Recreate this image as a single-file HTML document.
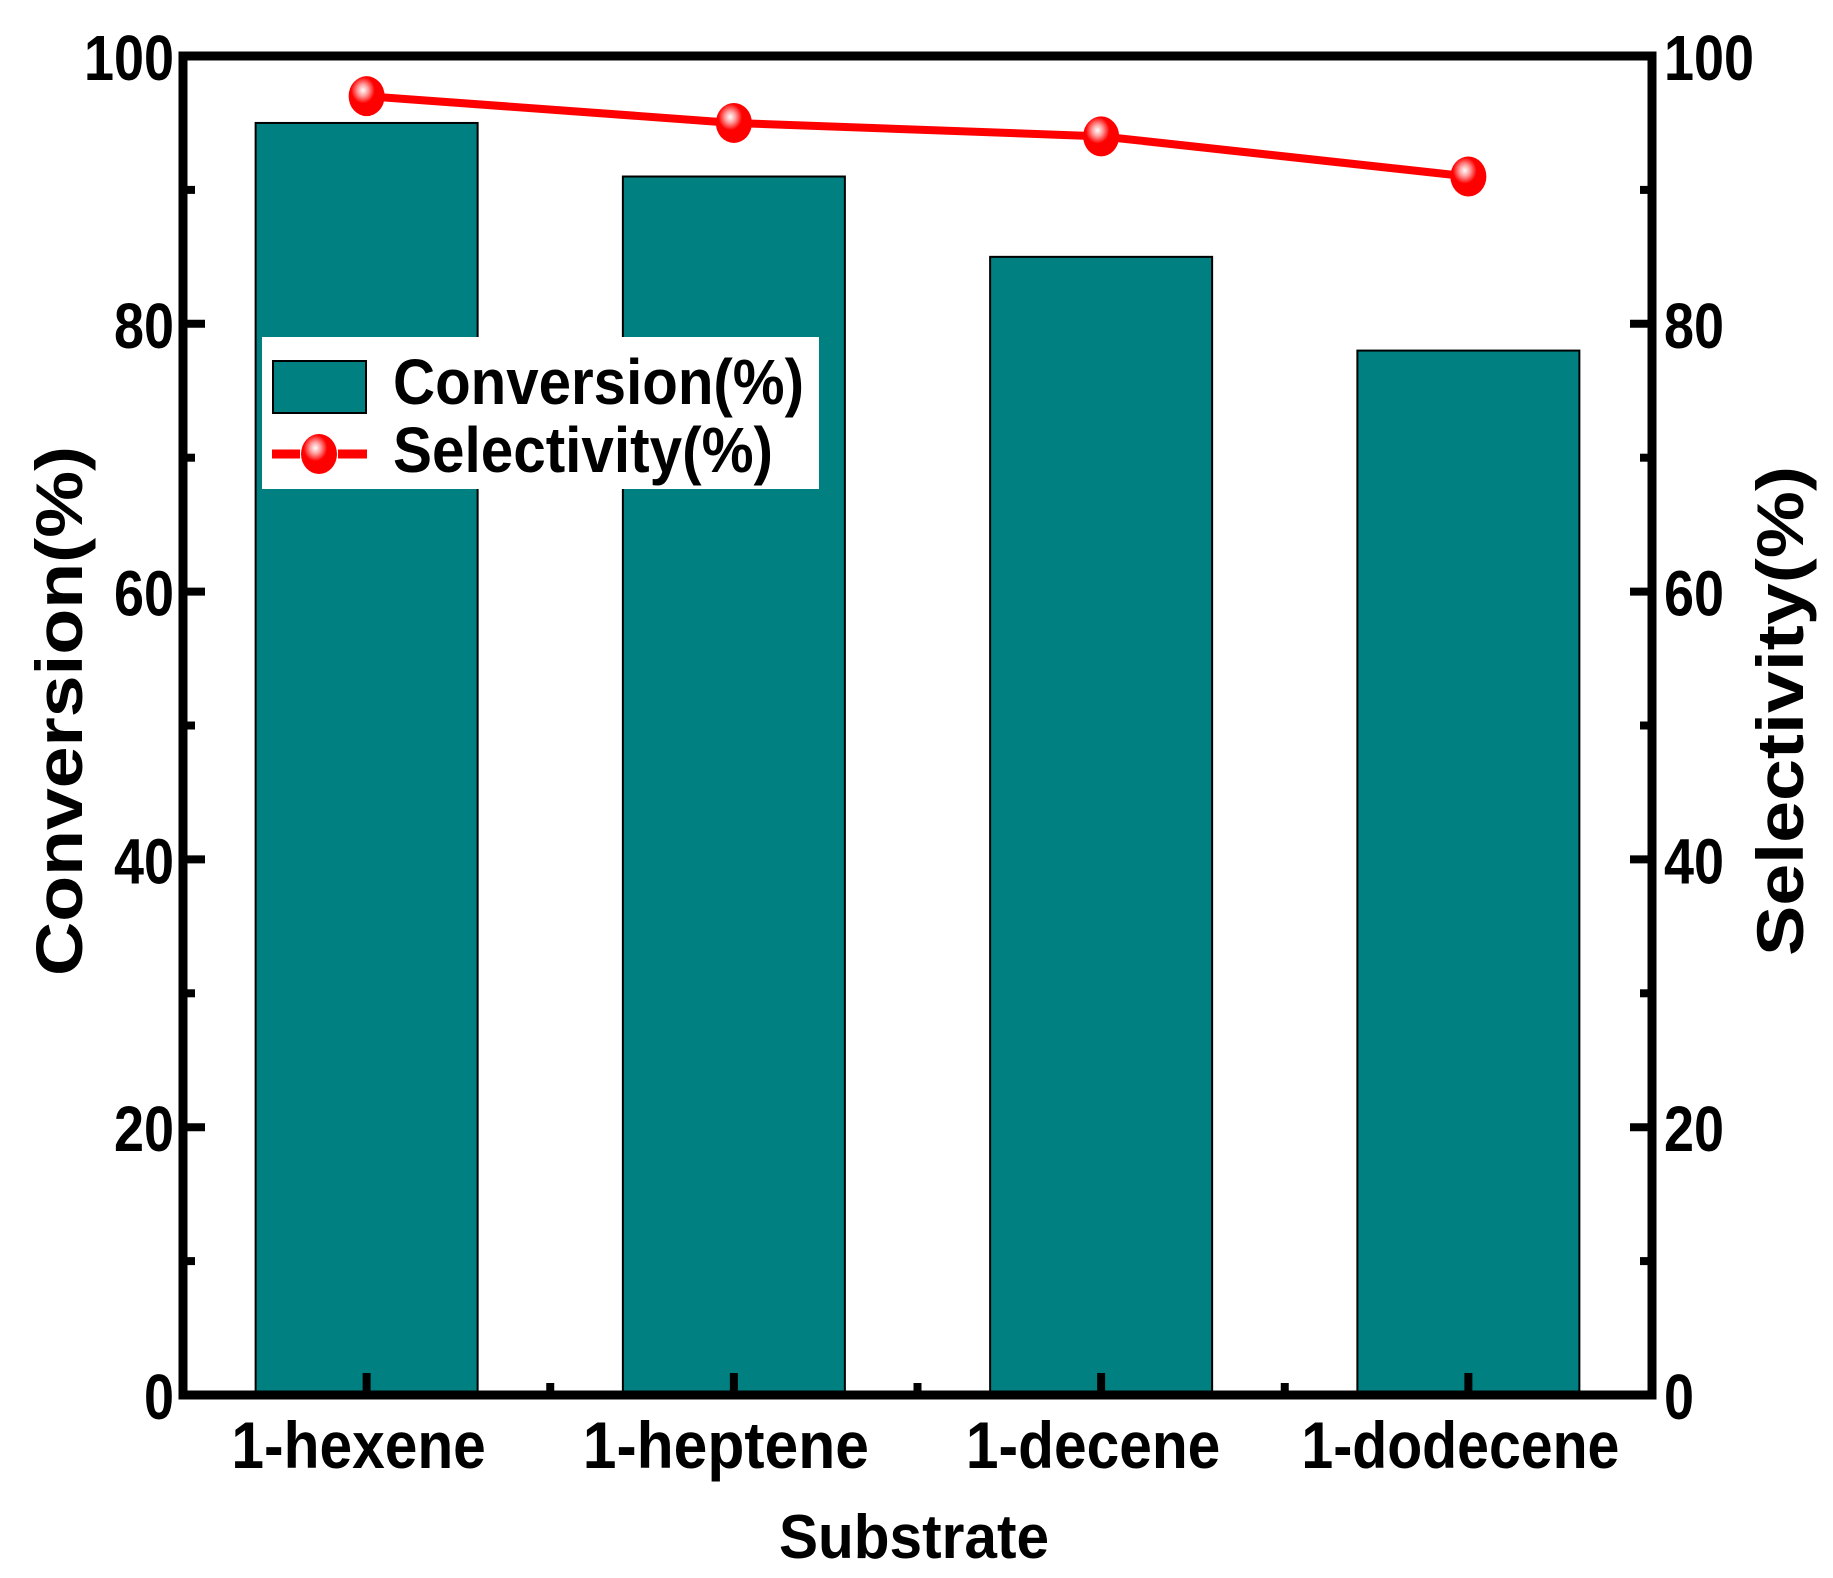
<!DOCTYPE html>
<html><head><meta charset="utf-8"><style>
html,body{margin:0;padding:0;background:#fff;}
svg{display:block;}
text{font-family:"Liberation Sans",sans-serif;font-weight:bold;fill:#000;}
</style></head><body>
<svg id="chart" width="1833" height="1578" viewBox="0 0 1833 1578" xmlns="http://www.w3.org/2000/svg">
<defs>
<radialGradient id="mk" cx="0.4" cy="0.35" r="0.6">
<stop offset="0" stop-color="#fff"/><stop offset="0.25" stop-color="#ff9a9a"/><stop offset="0.55" stop-color="#ff0000"/><stop offset="1" stop-color="#ff0000"/>
</radialGradient>
</defs>
<g id="bars"></g>
<g id="line"></g>
<g id="axes"></g>
<g id="legend">
<rect x="262" y="337" width="557" height="152" fill="#fff"/>
<rect x="273" y="361" width="93" height="52" fill="#008080" stroke="#000" stroke-width="2"/>
<text x="393" y="404" font-size="64" textLength="411" lengthAdjust="spacingAndGlyphs">Conversion(%)</text>
<line x1="272" y1="454" x2="300" y2="454" stroke="#ff0000" stroke-width="9"/>
<line x1="338" y1="454" x2="367" y2="454" stroke="#ff0000" stroke-width="9"/>
<ellipse cx="319" cy="454" rx="18" ry="20" fill="url(#mk)"/>
<text x="393" y="472" font-size="64" textLength="380" lengthAdjust="spacingAndGlyphs">Selectivity(%)</text>
</g>
<text x="914" y="1558" font-size="62" text-anchor="middle" textLength="270" lengthAdjust="spacingAndGlyphs">Substrate</text>
<text transform="translate(82,711) rotate(-90)" font-size="66" text-anchor="middle" textLength="530" lengthAdjust="spacingAndGlyphs">Conversion(%)</text>
<text transform="translate(1803,711) rotate(-90)" font-size="66" text-anchor="middle" textLength="490" lengthAdjust="spacingAndGlyphs">Selectivity(%)</text>
</svg>
<script>
const categories = ["1-hexene","1-heptene","1-decene","1-dodecene"];
const conversion = [95,91,85,78];
const selectivity = [97,95,94,91];
const yTicks = [0,20,40,60,80,100];
const yMinor = [10,30,50,70,90];
const L=183,R=1652,T=56,B=1395;
const NS="http://www.w3.org/2000/svg";
function xs(i){return L+(i+0.5)*(R-L)/4.0;}
function ys(v){return B-(v/100)*(B-T);}
function mk(tag,attrs,parent){const e=document.createElementNS(NS,tag);for(const k in attrs)e.setAttribute(k,attrs[k]);parent.appendChild(e);return e;}
const bars=document.getElementById('bars'),line=document.getElementById('line'),axes=document.getElementById('axes');
const bw=222;
conversion.forEach((v,i)=>{
 const r=mk('rect',{x:xs(i)-bw/2,y:ys(v),width:bw,height:B-ys(v),fill:'#008080',stroke:'#000','stroke-width':2},bars);
 
 
});
const pts=selectivity.map((v,i)=>xs(i)+','+ys(v)).join(' ');
const pl=mk('polyline',{points:pts,fill:'none',stroke:'#ff0000','stroke-width':8},line);


selectivity.forEach((v,i)=>{
 const c=mk('ellipse',{cx:xs(i),cy:ys(v),rx:18,ry:20,fill:'url(#mk)'},line);
 
 
});
const fr=mk('rect',{x:L,y:T,width:R-L,height:B-T,fill:'none',stroke:'#000','stroke-width':9},axes);


yTicks.forEach(v=>{
 const y=ys(v);
 const t1=mk('line',{x1:L,y1:y,x2:L+22,y2:y,stroke:'#000','stroke-width':8},axes);
 
 
 const t2=mk('line',{x1:R,y1:y,x2:R-22,y2:y,stroke:'#000','stroke-width':8},axes);
 
 
 const l1=mk('text',{x:174,y:y+24,'font-size':64,'text-anchor':'end',textLength:String(v).length*30,lengthAdjust:'spacingAndGlyphs'},axes);
 l1.textContent=v;
 
 
 const l2=mk('text',{x:1664,y:y+24,'font-size':64,textLength:String(v).length*30,lengthAdjust:'spacingAndGlyphs'},axes);
 l2.textContent=v;
 
 
});
yMinor.forEach(v=>{
 const y=ys(v);
 const a=mk('line',{x1:L,y1:y,x2:L+12,y2:y,stroke:'#000','stroke-width':8},axes);
 
 
 const b=mk('line',{x1:R,y1:y,x2:R-12,y2:y,stroke:'#000','stroke-width':8},axes);
 
 
});
categories.forEach((c,i)=>{
 const x=xs(i);
 const t=mk('line',{x1:x,y1:B,x2:x,y2:B-22,stroke:'#000','stroke-width':8},axes);
 
 
 if(i<categories.length-1){
  const m=mk('line',{x1:x+(R-L)/8,y1:B,x2:x+(R-L)/8,y2:B-12,stroke:'#000','stroke-width':8},axes);
  
  
 }
 const l=mk('text',{x:x-8,y:1468,'font-size':66,'text-anchor':'middle',textLength:c.length*31.8,lengthAdjust:'spacingAndGlyphs'},axes);
 l.textContent=c;
 
 
});
</script>
</body></html>
